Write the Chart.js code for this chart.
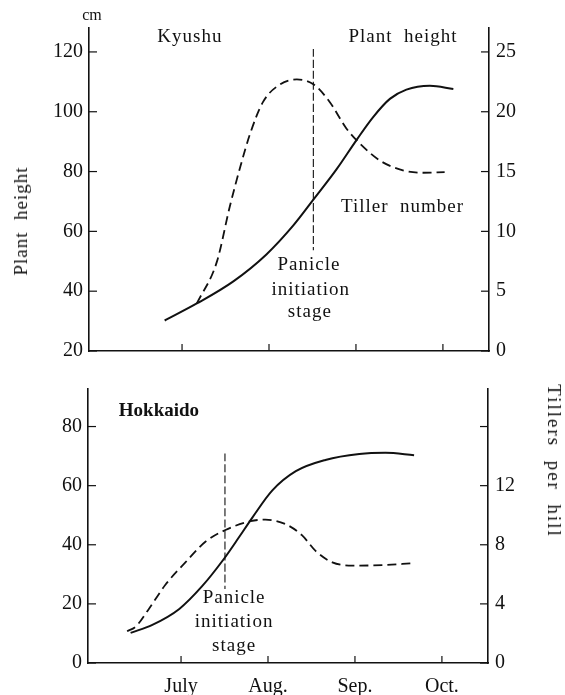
<!DOCTYPE html>
<html>
<head>
<meta charset="utf-8">
<script src="https://cdn.jsdelivr.net/npm/chart.js@4.4.1/dist/chart.umd.min.js"></script>
<style>
  body { margin: 0; background: #fff; }
  #wrap { position: relative; width: 565px; height: 695px; overflow: hidden; }
  canvas { position: absolute; left: 0; }
  .lbl { position: absolute; font-family: "Liberation Serif", "DejaVu Serif", serif; font-size: 19px;
         color: #111; white-space: pre; letter-spacing: 1px; transform: translate(-50%, -50%); }
</style>
</head>
<body>
<div id="wrap">
  <canvas id="topChart" width="565" height="370" style="top:0"></canvas>
  <canvas id="bottomChart" width="565" height="325" style="top:370px"></canvas>
  <div class="lbl" style="left:92px;top:15px;font-size:16px;letter-spacing:0">cm</div>
  <div class="lbl" style="left:21px;top:221px;transform:translate(-50%,-50%) rotate(-90deg)">Plant  height</div>
  <div class="lbl" style="left:554px;top:461px;letter-spacing:2px;transform:translate(-50%,-50%) rotate(90deg)">Tillers  per  hill</div>
</div>
<script>
// month axis: 7 = July, 8 = Aug., ...
const monthTicks = [7, 8, 9, 10]
const monthLabels = ['July', 'Aug.', 'Sep.', 'Oct.']

// Kyushu (top)
const kyushuHeightX = [6.80, 7.17, 7.59, 7.97, 8.28, 8.51, 8.78, 9.01, 9.20, 9.39, 9.58, 9.85, 10.12]
const kyushuHeight  = [30.2, 35.9, 43.3, 52.3, 62.0, 70.6, 80.9, 90.7, 98.3, 104.3, 107.4, 108.7, 107.6]
const kyushuTillerX = [7.17, 7.40, 7.55, 7.67, 7.78, 7.93, 8.13, 8.32, 8.51, 8.70, 8.89, 9.05, 9.28, 9.54, 9.77, 10.02]
const kyushuTiller  = [3.97, 7.45, 12.1, 15.4, 18.1, 20.8, 22.3, 22.7, 22.3, 20.8, 18.6, 17.3, 15.9, 15.1, 14.9, 14.95]
const kyushuPanicle = [8.51, 121, 53.7]   // x, top, bottom (cm scale)

// Hokkaido (bottom)
const hokkaidoHeightX = [6.42, 6.67, 6.98, 7.24, 7.49, 7.67, 7.82, 8.05, 8.32, 8.66, 9.05, 9.35, 9.68]
const hokkaidoHeight  = [10.2, 12.9, 18.3, 25.9, 35.1, 42.7, 49.2, 58.4, 64.9, 68.7, 70.7, 71.1, 70.3]
const hokkaidoTillerX = [6.38, 6.48, 6.63, 6.82, 7.05, 7.28, 7.51, 7.80, 7.97, 8.20, 8.39, 8.55, 8.74, 8.97, 9.35, 9.64]
const hokkaidoTiller  = [2.15, 2.47, 3.66, 5.29, 6.81, 8.2, 9.0, 9.6, 9.7, 9.4, 8.65, 7.57, 6.81, 6.59, 6.63, 6.74]
const hokkaidoPanicle = [7.505, 70.9, 25]

// tick labels
const heightTicksTop = [20, 40, 60, 80, 100, 120]
const tillerTicksTop = [0, 5, 10, 15, 20, 25]
const heightTicksBottom = [0, 20, 40, 60, 80]
const tillerTicksBottom = [0, 4, 8, 12, 16]
const tillerLabelsBottom = ['0', '4', '8', '12', '']

const ink = '#111'
const serif = '"Liberation Serif", "DejaVu Serif", serif'

const pts = (xs, ys) => xs.map((x, i) => ({x: x, y: ys[i]}))

// inward tick marks + text notes inside the plot
const marks = {
  id: 'marks',
  afterDraw(chart, args, opts) {
    const ctx = chart.ctx
    const a = chart.chartArea
    ctx.save()
    ctx.strokeStyle = ink
    ctx.lineWidth = 1.2
    Object.values(chart.scales).forEach(s => {
      s.ticks.forEach(t => {
        const p = s.getPixelForValue(t.value)
        ctx.beginPath()
        if (s.axis === 'x') { ctx.moveTo(p, a.bottom); ctx.lineTo(p, a.bottom - 7) }
        else if (s.position === 'left') { ctx.moveTo(a.left, p); ctx.lineTo(a.left + 8, p) }
        else { ctx.moveTo(a.right, p); ctx.lineTo(a.right - 8, p) }
        ctx.stroke()
      })
    })
    ctx.fillStyle = ink
    ctx.textAlign = 'center'
    ctx.textBaseline = 'middle'
    ;(opts.notes || []).forEach(n => {
      ctx.font = n.font || ('19px ' + serif)
      ctx.letterSpacing = n.spacing || '1px'
      ctx.fillText(n.text, chart.scales.x.getPixelForValue(n.x), chart.scales.y.getPixelForValue(n.y))
    })
    ctx.restore()
  }
}

function makeChart(id, cfg) {
  return new Chart(document.getElementById(id), {
    type: 'line',
    data: {
      datasets: [
        {data: cfg.height, borderColor: ink, borderWidth: 2, yAxisID: 'y'},
        {data: cfg.tiller, borderColor: ink, borderWidth: 1.8, borderDash: [9, 5], yAxisID: 'y1'},
        {data: cfg.panicle, borderColor: ink, borderWidth: 1.1, borderDash: [8, 3], yAxisID: 'y', tension: 0}
      ]
    },
    options: {
      responsive: false,
      animation: false,
      layout: {padding: {top: cfg.padTop, left: 0, right: 0, bottom: 0}},
      elements: {
        point: {radius: 0},
        line: {cubicInterpolationMode: 'monotone', fill: false}
      },
      plugins: {
        legend: {display: false},
        tooltip: {enabled: false},
        marks: {notes: cfg.notes}
      },
      scales: {
        x: {
          type: 'linear', min: 5.93, max: 10.53,
          afterBuildTicks: s => { s.ticks = monthTicks.map(v => ({value: v})) },
          afterFit: s => { s.height = cfg.xHeight },
          grid: {display: false, drawTicks: false},
          border: {display: true, color: ink, width: 1.6},
          ticks: {
            display: cfg.showMonths, padding: 12, color: ink, maxRotation: 0,
            font: {family: serif, size: 20},
            callback: v => monthLabels[monthTicks.indexOf(v)]
          }
        },
        y: {
          position: 'left', min: cfg.yMin, max: cfg.yMax,
          afterBuildTicks: s => { s.ticks = cfg.yTicks.map(v => ({value: v})) },
          afterFit: s => { s.width = cfg.left },
          grid: {display: false, drawTicks: false},
          border: {display: true, color: ink, width: 1.6},
          ticks: {padding: 6, color: ink, font: {family: serif, size: 20}}
        },
        y1: {
          position: 'right', min: cfg.y1Min, max: cfg.y1Max,
          afterBuildTicks: s => { s.ticks = cfg.y1Ticks.map(v => ({value: v})) },
          afterFit: s => { s.width = 565 - cfg.right },
          grid: {display: false, drawTicks: false},
          border: {display: true, color: ink, width: 1.6},
          ticks: {
            padding: 7, color: ink, font: {family: serif, size: 20},
            callback: v => cfg.y1Labels ? cfg.y1Labels[cfg.y1Ticks.indexOf(v)] : String(v)
          }
        }
      }
    },
    plugins: [marks]
  })
}

makeChart('topChart', {
  height: pts(kyushuHeightX, kyushuHeight),
  tiller: pts(kyushuTillerX, kyushuTiller),
  panicle: [{x: kyushuPanicle[0], y: kyushuPanicle[1]}, {x: kyushuPanicle[0], y: kyushuPanicle[2]}],
  padTop: 28, xHeight: 12, left: 89, right: 489, showMonths: false,
  yMin: 20, yMax: 128, yTicks: heightTicksTop,
  y1Min: 0, y1Max: 27, y1Ticks: tillerTicksTop,
  notes: [
    {text: 'Kyushu', x: 7.09, y: 124.9},
    {text: 'Plant  height', x: 9.54, y: 124.9},
    {text: 'Tiller  number', x: 9.535, y: 68.0},
    {text: 'Panicle', x: 8.46, y: 48.6},
    {text: 'initiation', x: 8.48, y: 40.5},
    {text: 'stage', x: 8.47, y: 33.0}
  ]
})

makeChart('bottomChart', {
  height: pts(hokkaidoHeightX, hokkaidoHeight),
  tiller: pts(hokkaidoTillerX, hokkaidoTiller),
  panicle: [{x: hokkaidoPanicle[0], y: hokkaidoPanicle[1]}, {x: hokkaidoPanicle[0], y: hokkaidoPanicle[2]}],
  padTop: 8, xHeight: 32, left: 88, right: 488, showMonths: true,
  yMin: 0, yMax: 92.7, yTicks: heightTicksBottom,
  y1Min: 0, y1Max: 18.54, y1Ticks: tillerTicksBottom, y1Labels: tillerLabelsBottom,
  notes: [
    {text: 'Hokkaido', x: 6.746, y: 85.2, font: 'bold 19px ' + serif, spacing: '0px'},
    {text: 'Panicle', x: 7.61, y: 22.1},
    {text: 'initiation', x: 7.61, y: 13.7},
    {text: 'stage', x: 7.61, y: 5.9}
  ]
})
</script>
</body>
</html>
